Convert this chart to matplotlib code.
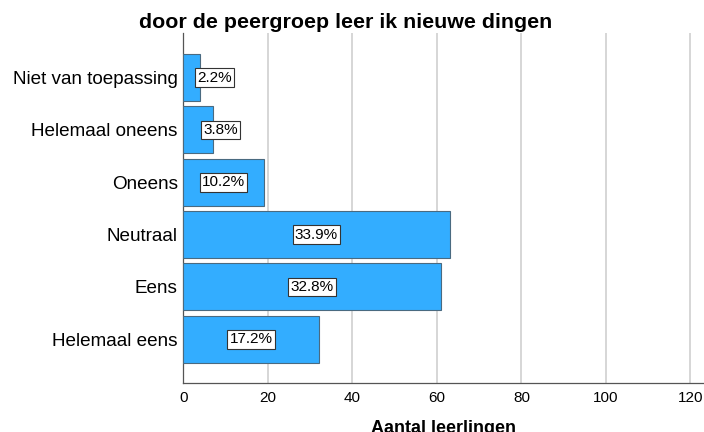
import matplotlib
matplotlib.use("Agg")
import matplotlib.pyplot as plt

categories = ["Niet van toepassing", "Helemaal oneens", "Oneens", "Neutraal", "Eens", "Helemaal eens"]
counts = [4, 7, 19, 63, 61, 32]
percent_labels = ["2.2%", "3.8%", "10.2%", "33.9%", "32.8%", "17.2%"]
xticks = [0, 20, 40, 60, 80, 100, 120]

plt.rcParams['font.family'] = ['Liberation Sans', 'DejaVu Sans']

W, H = 704, 432
left, right, top, bottom = 183.3, 704, 33.3, 382.7
fig = plt.figure(figsize=(W / 100, H / 100), dpi=100)
ax = fig.add_axes([left / W, 1 - bottom / H, (right - left) / W, (bottom - top) / H])

ypos = list(range(len(categories)))
ax.barh(ypos, counts, height=0.90, color='#33adff', edgecolor='#4a6a80', linewidth=0.8, zorder=3)

for y, c, lab in zip(ypos, counts, percent_labels):
    x = c / 2
    ha = 'center'
    if c < 12:
        ha = 'left'
        x = c / 2 + 1.2
    ax.text(x, y, lab, ha=ha, va='center', fontsize=11, zorder=4,
            bbox=dict(boxstyle='square,pad=0.15', facecolor='white', edgecolor='#333333', linewidth=0.8))

ax.set_xlim(0, 123.2)
ax.set_ylim(5.83, -0.845)
ax.set_yticks(ypos)
ax.set_yticklabels(categories, fontsize=13.6)
ax.set_xticks(xticks)
ax.set_xticklabels([str(t) for t in xticks], fontsize=11)
ax.tick_params(axis='y', length=0, pad=4)
ax.tick_params(axis='x', length=0, pad=6)
ax.grid(axis='x', color='#d0d0d0', linewidth=1.2, zorder=0)
for s in ['top', 'right']:
    ax.spines[s].set_visible(False)
for s in ['left', 'bottom']:
    ax.spines[s].set_color('#555555')
    ax.spines[s].set_linewidth(0.9)

ax.set_xlabel("Aantal leerlingen", fontsize=13, fontweight='bold', labelpad=11)
fig.text(346 / W, 1 - 22 / H, "door de peergroep leer ik nieuwe dingen", ha='center', va='center',
         fontsize=15.4, fontweight='bold')

fig.savefig("out.png", dpi=100)
